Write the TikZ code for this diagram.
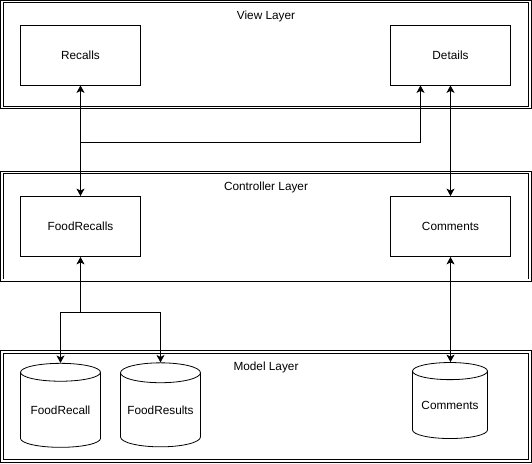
\documentclass[tikz,border=0pt]{standalone}
\usepackage{fontspec}
\setmainfont{Liberation Sans}
\usetikzlibrary{positioning, arrows.meta, shapes.geometric}

\begin{document}
\begin{tikzpicture}[x=1pt, y=-1pt, font=\fontsize{11.8}{13}\selectfont,
    layer/.style={draw, double, double distance=1.3pt, line width=0.9pt, inner sep=0pt},
    box/.style={draw, line width=0.8pt, minimum width=120pt, minimum height=60pt},
    db/.style={draw, line width=0.8pt, cylinder, shape border rotate=90, aspect=0.3, inner sep=0pt},
    conn/.style={line width=0.8pt, -{Stealth[length=7.5pt, width=8pt, inset=2pt]}},
    both/.style={line width=0.8pt, {Stealth[length=7.5pt, width=8pt, inset=2pt]}-{Stealth[length=7.5pt, width=8pt, inset=2pt]}}]
\useasboundingbox (0,0) rectangle (532,463);

\node (view) [layer, minimum width=528pt, minimum height=106pt] at (266,54.8) {};
\node (ctrl) [layer, minimum width=528pt, minimum height=107.5pt] at (266,226.3) {};
\node (model) [layer, minimum width=528pt, minimum height=109pt] at (266,406.5) {};

\node (viewlbl) [below=6.5pt of view.north] {View Layer};
\node (ctrllbl) [below=6.5pt of ctrl.north] {Controller Layer};
\node (modellbl) [below=7pt of model.north] {Model Layer};

\node (recalls) [box] at (80.5,55) {Recalls};
\node (details) [box] at (450.5,55) {Details};
\node (foodrecalls) [box] at (80.5,226.5) {FoodRecalls};
\node (comments) [box] at (450.5,226.5) {Comments};

\node (dbrecall) [db, minimum width=80pt, minimum height=84pt] at (60.5,410) {FoodRecall};
\node (dbresults) [db, minimum width=80pt, minimum height=84pt] at (160.5,410) {FoodResults};
\node (dbcomments) [db, minimum width=75pt, minimum height=76pt] at (450,405) {Comments};

\coordinate (vsplit) at (recalls.south |- 0,142);
\coordinate (msplit) at (foodrecalls.south |- 0,312);

\draw[both] (recalls) -- (foodrecalls);
\draw[conn] (vsplit) -| ([xshift=-30pt]details.south);
\draw[both] (details) -- (comments);
\draw[both] (comments.south) -- (comments.south |- dbcomments.north);

\draw[conn] (msplit) -- (foodrecalls.south);
\draw[conn] (msplit) -| (dbrecall.north);
\draw[conn] (msplit) -| (dbresults.north);

\end{tikzpicture}
\end{document}
